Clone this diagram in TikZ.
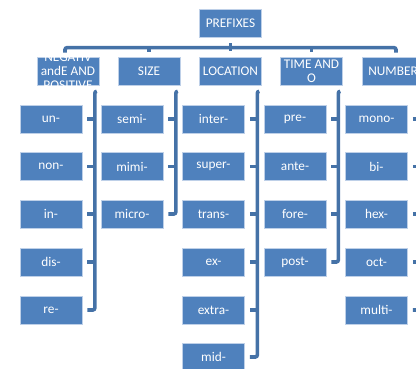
\documentclass[tikz,border=0pt]{standalone}
\usepackage{fontspec}
\setmainfont{Carlito}
\definecolor{boxblue}{RGB}{79,129,189}
\definecolor{linkblue}{RGB}{69,114,167}
\definecolor{rimblue}{RGB}{190,208,232}

\begin{document}
\begin{tikzpicture}[x=1pt, y=-1pt,
      box/.style={draw=rimblue, line width=0.6pt, fill=boxblue, text=white,
        minimum width=62pt, minimum height=28pt, inner sep=0pt,
        font=\fontsize{13.3}{14}\selectfont, align=center},
      link/.style={draw=linkblue, line width=3.6pt, rounded corners=2pt}]

    \useasboundingbox (0,0) rectangle (416,369);
    \clip (0,0) rectangle (416,369);

    \node[box] (prefixes) at (230.5,23) {PREFIXES};

    \node[box] (neg)      at (68,71)    {};
    \node[box] (size)     at (149,71)   {SIZE};
    \node[box] (location) at (230.5,71) {LOCATION};
    \node[box] (time)     at (311.5,71) {TIME AND\\O};
    \node[box] (number)   at (393,71)   {NUMBER};

    % label runs over its box
    \begin{scope}
      \clip (neg.north west) rectangle (neg.south east);
      \node[box, draw=none, fill=none] at (neg) {NEGATIV\\andE AND\\POSITIVE};
    \end{scope}

    \node[box] (un)    at (51,119)   {un-};
    \node[box] (non)   at (51,166.5) {non-};
    \node[box] (in)    at (51,214)   {in-};
    \node[box] (dis)   at (51,262)   {dis-};
    \node[box] (re)    at (51,310)   {re-};

    \node[box] (semi)  at (132,119)   {semi-};
    \node[box] (mimi)  at (132,166.5) {mimi-};
    \node[box] (micro) at (132,214)   {micro-};

    \node[box] (inter) at (213.5,119)   {inter-};
    \node[box] (super) at (213.5,166.5) {super-};
    \node[box] (trans) at (213.5,214)   {trans-};
    \node[box] (ex)    at (213.5,262)   {ex-};
    \node[box] (extra) at (213.5,310)   {extra-};
    \node[box] (mid)   at (213.5,357)   {mid-};

    \node[box] (pre)   at (295,119)   {pre-};
    \node[box] (ante)  at (295,166.5) {ante-};
    \node[box] (fore)  at (295,214)   {fore-};
    \node[box] (post)  at (295,262)   {post-};

    \node[box] (mono)  at (376.5,119)   {mono-};
    \node[box] (bi)    at (376.5,166.5) {bi-};
    \node[box] (hex)   at (376.5,214)   {hex-};
    \node[box] (oct)   at (376.5,262)   {oct-};
    \node[box] (multi) at (376.5,310)   {multi-};

    % top brace
    \draw[link] ([xshift=-3pt, yshift=4pt]neg.north) -- ([xshift=-3pt, yshift=9pt]neg.north)
      -- ([xshift=3pt, yshift=9pt]number.north) -- ([xshift=3pt, yshift=4pt]number.north);
    \draw[link, rounded corners=0pt] ([yshift=-6pt]prefixes.south) -- ([yshift=-14pt]prefixes.south);
    \foreach \n in {size, time}
      \draw[link, rounded corners=0pt] ([yshift=9pt]\n.north) -- ([yshift=4.5pt]\n.north);

    % side brackets
    \foreach \p/\last in {neg/re, size/micro, location/mid, time/post, number/multi} {
      \coordinate (\p rail) at ([xshift=-4.5pt, yshift=-6pt]\p.south east);
      \draw[link] ([xshift=2pt]\p rail) -- (\p rail) |- ([xshift=5pt]\last.east);
    }
    \foreach \c in {un, non, in, dis}
      \draw[link, rounded corners=0pt] ([xshift=5pt]\c.east) -- (\c.east -| negrail);
    \foreach \c in {semi, mimi}
      \draw[link, rounded corners=0pt] ([xshift=5pt]\c.east) -- (\c.east -| sizerail);
    \foreach \c in {inter, super, trans, ex, extra}
      \draw[link, rounded corners=0pt] ([xshift=5pt]\c.east) -- (\c.east -| locationrail);
    \foreach \c in {pre, ante, fore}
      \draw[link, rounded corners=0pt] ([xshift=5pt]\c.east) -- (\c.east -| timerail);
    \foreach \c in {mono, bi, hex, oct}
      \draw[link, rounded corners=0pt] ([xshift=5pt]\c.east) -- (\c.east -| numberrail);
  \end{tikzpicture}
\end{document}
